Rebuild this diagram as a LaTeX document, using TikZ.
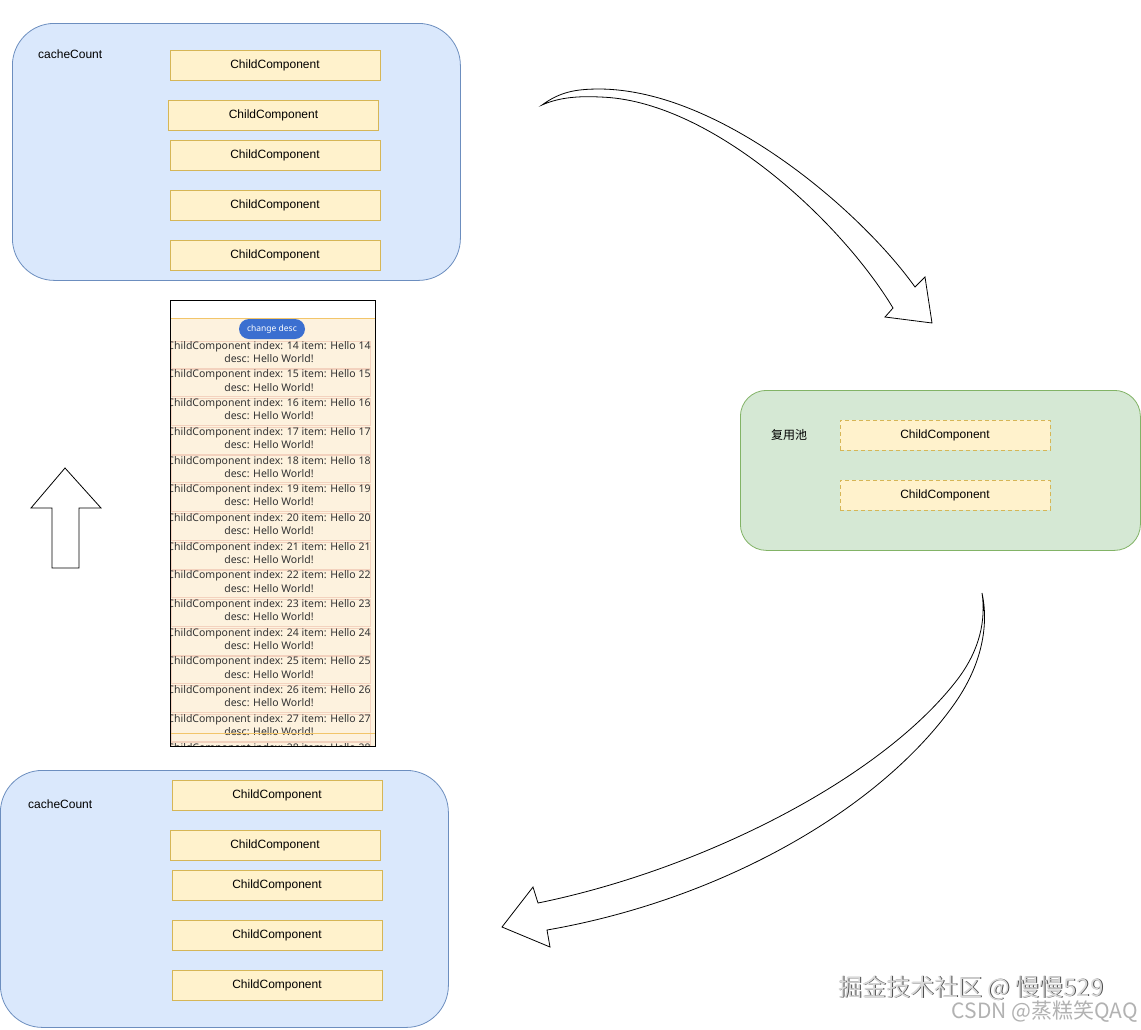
\documentclass[tikz,border=0pt]{standalone}
\usepackage{fontspec}
\setmainfont{Liberation Sans}
\newfontfamily\cjk{Noto Sans CJK SC}
\newfontfamily\shotfont{Noto Sans}
\definecolor{bluefill}{HTML}{DAE8FC}
\definecolor{bluedraw}{HTML}{6C8EBF}
\definecolor{yfill}{HTML}{FFF2CC}
\definecolor{ydraw}{HTML}{D6B656}
\definecolor{gfill}{HTML}{D5E8D4}
\definecolor{gdraw}{HTML}{82B366}
\definecolor{shotbg}{HTML}{FDF2DE}
\definecolor{shotline}{HTML}{F2C56A}
\definecolor{itemline}{HTML}{F3D2BE}
\definecolor{btnblue}{HTML}{3B6FD0}
\definecolor{shottxt}{HTML}{333333}
\tikzset{
  container/.style={draw=bluedraw, fill=bluefill, line width=0.8pt, rounded corners=42pt, anchor=north west, inner sep=0pt},
  greenbox/.style={draw=gdraw, fill=gfill, line width=0.8pt, rounded corners=26pt, anchor=north west, inner sep=0pt},
  childbox/.style={draw=ydraw, fill=yfill, line width=0.8pt, minimum width=210pt, minimum height=30pt, inner sep=0pt, font=\fontsize{12}{14}\selectfont},
  dashbox/.style={childbox, dashed, dash pattern=on 4pt off 3pt},
  lbl/.style={font=\fontsize{12}{14}\selectfont, anchor=west, inner sep=0pt},
  bigarrow/.style={draw=black, fill=white, line width=0.8pt, line join=miter},
  shottext/.style={font=\shotfont\fontsize{10.5}{12}\selectfont, text=shottxt, inner sep=0pt},
  itembox/.style={draw=itemline, line width=0.8pt},
}
\begin{document}
\begin{tikzpicture}[x=1pt,y=-1pt]
\useasboundingbox (0,0) rectangle (1141,1029);
\fill[white] (0,0) rectangle (1141,1029);

% top container
\node[container, minimum width=448pt, minimum height=257pt] (topbox) at (12,23) {};
\node[lbl] (toplbl) at (38,54) {cacheCount};
\node[childbox] (t1) at (275,65) {ChildComponent};
\node[childbox] (t2) at (273.5,115) {ChildComponent};
\node[childbox] (t3) at (275,155) {ChildComponent};
\node[childbox] (t4) at (275,205) {ChildComponent};
\node[childbox] (t5) at (275,255) {ChildComponent};

% bottom container
\node[container, minimum width=448pt, minimum height=257pt] (botbox) at (0,770) {};
\node[lbl] (botlbl) at (28,804) {cacheCount};
\node[childbox] (b1) at (277,795) {ChildComponent};
\node[childbox] (b2) at (275,845) {ChildComponent};
\node[childbox] (b3) at (277,885) {ChildComponent};
\node[childbox] (b4) at (277,935) {ChildComponent};
\node[childbox] (b5) at (277,985) {ChildComponent};

% green pool
\node[greenbox, minimum width=400pt, minimum height=160pt] (pool) at (740,390) {};
\node[lbl, font=\cjk\fontsize{12}{14}\selectfont] (poollbl) at (771,435) {复用池};
\node[dashbox] (p1) at (945,435) {ChildComponent};
\node[dashbox] (p2) at (945,495) {ChildComponent};

% screenshot
\begin{scope}
\clip (170,300) rectangle (375,746);
\fill[white] (170,300) rectangle (375,746);
\fill[shotbg] (170,318) rectangle (375,746);
\draw[shotline, line width=1pt] (170,318.5) -- (375,318.5);
\foreach \i in {14,...,28} {
  \pgfmathsetmacro\t{341+(\i-14)*28.7}
  \draw[itembox] (171,\t) rectangle (370,\t+27);
  \node[shottext] (sa\i) at (269,\t+5.5) {ChildComponent index: \i\ item: Hello \i};
  \node[shottext] (sb\i) at (269,\t+17.5) {desc: Hello World!};
}
\draw[shotline, line width=1pt] (170,733) -- (375,733);
\node[fill=btnblue, rounded corners=10pt, minimum width=66pt, minimum height=20pt, inner sep=0pt, text=white, font=\shotfont\fontsize{8.5}{10}\selectfont] (btn) at (272,329) {change desc};
\end{scope}
\node[draw=black, line width=0.8pt, minimum width=205pt, minimum height=446pt, anchor=north west, inner sep=0pt] (shot) at (170,300) {};

% up arrow
\draw[bigarrow] (52,568) -- (52,508) -- (31,508) -- (65,468) -- (101,508) -- (79,508) -- (79,568) -- cycle;

% top curved arrow
\draw[bigarrow] (542,105) .. controls (560,92) and (575,89) .. (600,89)
  .. controls (720,90) and (860,210) .. (915,287)
  -- (925,277) -- (932,323) -- (885,317) -- (893,308)
  .. controls (840,220) and (710,100) .. (600,97)
  .. controls (580,96) and (560,97) .. (542,105) -- cycle;

% bottom curved arrow
\draw[bigarrow] (982,593) .. controls (988,620) and (985,660) .. (955,703)
  .. controls (880,810) and (720,900) .. (547,930)
  -- (550,947) -- (502,927) -- (533,887) -- (538,903)
  .. controls (700,870) and (880,780) .. (957,680)
  .. controls (980,650) and (986,620) .. (982,593) -- cycle;

% watermark
\node[anchor=west, inner sep=0pt, text=black!70, font=\cjk\fontsize{24}{26}\selectfont] (wm1s) at (838.8,988.8) {掘金技术社区 @ 慢慢529};
\node[anchor=west, inner sep=0pt, text=white!85!black, font=\cjk\fontsize{24}{26}\selectfont] (wm1) at (838,988) {掘金技术社区 @ 慢慢529};
\node[anchor=east, inner sep=0pt, text=black!30, font=\cjk\fontsize{21}{23}\selectfont] (wm2) at (1138,1012) {CSDN @蒸糕笑QAQ};
\end{tikzpicture}
\end{document}
